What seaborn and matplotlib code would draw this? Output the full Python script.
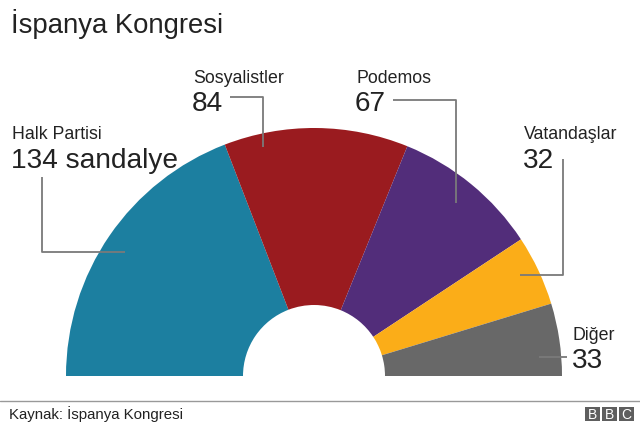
import matplotlib
matplotlib.use("Agg")
import matplotlib.pyplot as plt
from matplotlib.patches import Rectangle
import seaborn as sns

# seats
parties = ["Halk Partisi", "Sosyalistler", "Podemos", "Vatandaşlar", "Diğer"]
seats = [134, 84, 67, 32, 33]
number_labels = ["134 sandalye", "84", "67", "32", "33"]
colors = ["#1c7fa0", "#9a1b1f", "#522d7a", "#fbad18", "#686868"]

sns.set_theme(style="white")
plt.rcParams["font.family"] = ["Liberation Sans", "DejaVu Sans"]

W, H = 640, 427
fig = plt.figure(figsize=(6.4, 4.27), dpi=100)
ax = fig.add_axes([0, 0, 1, 1])

def py(y):
    # pixel row -> data y (y up)
    return H - y

# half donut: hidden bottom half keeps the arcs on the top
ax.pie(seats + [sum(seats)], colors=colors + ["none"], startangle=180,
       counterclock=False, radius=248, center=(314, py(377)),
       wedgeprops=dict(width=177, linewidth=0))

ax.set_xlim(0, W)
ax.set_ylim(0, H)
ax.set_aspect("equal")
ax.axis("off")

# labels: (x, name baseline, number baseline)
label_pos = [(12, 139, 168), (193, 83, 111), (356, 83, 111),
             (524, 139, 168), (573, 340, 368)]
for (x, yn, yv), name, num in zip(label_pos, parties, number_labels):
    ax.text(x, py(yn), name, fontsize=12.8, color="#222222", va="baseline")
    ax.text(x - 1, py(yv), num, fontsize=20.2, color="#222222", va="baseline")

# leader lines
leaders = [
    [(42, 178), (42, 253), (125, 253)],
    [(230, 98), (263, 98), (263, 148)],
    [(393, 101), (456, 101), (456, 204)],
    [(563, 160), (563, 276), (520, 276)],
    [(567, 358), (539, 358)],
]
for pts in leaders:
    ax.plot([p[0] for p in pts], [py(p[1]) for p in pts],
            color="#7a7a7a", lw=1.3, solid_capstyle="butt")

# title
ax.text(11, py(33), "İspanya Kongresi", fontsize=19.8, color="#222222",
        va="baseline")

# footer
ax.plot([0, W], [py(402), py(402)], color="#999999", lw=1)
ax.text(9, py(419), "Kaynak: İspanya Kongresi", fontsize=10.8,
        color="#222222", va="baseline")
for i, letter in enumerate("BBC"):
    x0 = 585 + i * 17
    ax.add_patch(Rectangle((x0, py(422)), 15, 14, color="#5e5e5e", lw=0))
    ax.text(x0 + 7.5, py(415), letter, fontsize=10, color="white",
            ha="center", va="center")

fig.savefig("out.png", dpi=100)
